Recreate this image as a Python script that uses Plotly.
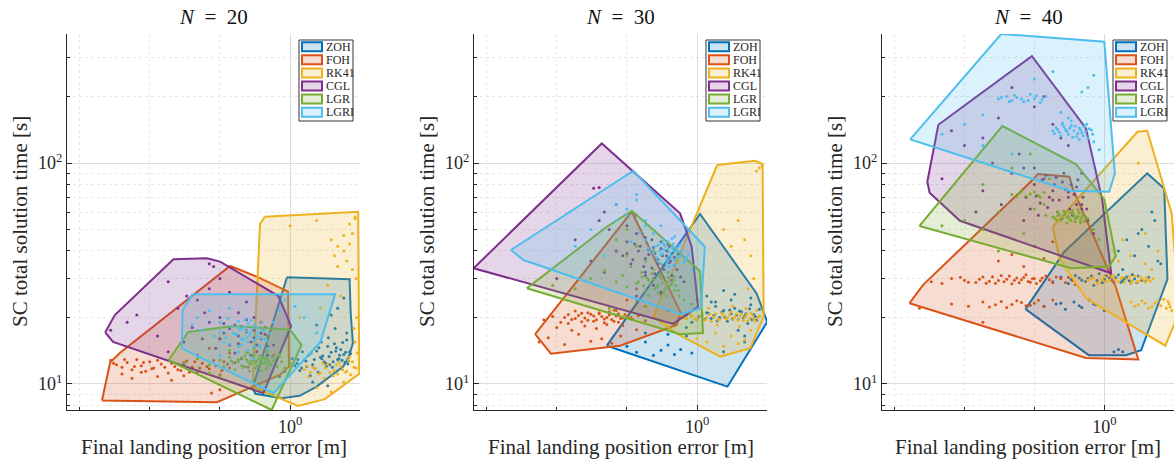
import math
import plotly.graph_objects as go

FIG_W, FIG_H = 1175, 459
FONT = "'Liberation Serif', 'DejaVu Serif', 'Times New Roman', serif"
TXT = "#262626"

SERIES = ["ZOH", "FOH", "RK41", "CGL", "LGR", "LGRI"]
COLORS = ["#0072BD", "#D95319", "#EDB120", "#7E2F8E", "#77AC30", "#4DBEEE"]
FILL_ALPHA = 0.2

PANEL_TITLES = ["<i>N</i>\u2002=\u200220", "<i>N</i>\u2002=\u200230", "<i>N</i>\u2002=\u200240"]
X_LABEL = "Final landing position error [m]"
Y_LABEL = "SC total solution time [s]"

X_MAJOR_TICKS = [1.0]
X_MAJOR_TEXT = ["10<sup>0</sup>"]
X_MINOR_TICKS = [0.125, 0.25, 0.5]
Y_MAJOR_TICKS = [10, 100]
Y_MAJOR_TEXT = ["10<sup>1</sup>", "10<sup>2</sup>"]
Y_MINOR_TICKS = [8, 9, 20, 30, 40, 50, 60, 70, 80, 90, 200, 300]
X_LIMITS = [0.1104, 1.995]
Y_LIMITS = [7.62, 384.0]

# ---------------- N = 20 ----------------
ZOH_20_HULL = [(0.97, 30.4), (1.80, 29.8), (1.82, 20.9), (1.86, 15.3), (1.78, 13.1), (1.69, 12.0),
               (1.30, 9.72), (1.10, 8.83), (0.92, 8.61), (0.71, 9.02), (0.69, 9.57)]
FOH_20_HULL = [(0.156, 8.41), (0.169, 12.5), (0.186, 13.8), (0.553, 34.2), (0.72, 30.6), (0.98, 26.2),
               (0.99, 12.0), (0.906, 11.0), (0.571, 8.9), (0.485, 8.27)]
RK41_20_HULL = [(0.78, 57.2), (1.96, 60.2), (1.98, 11.1), (1.41, 8.53), (1.08, 7.95), (0.69, 9.72), (0.743, 53.0)]
CGL_20_HULL = [(0.161, 17.1), (0.177, 20.5), (0.316, 36.7), (0.439, 37.1), (0.501, 35.8), (0.891, 25.0),
               (1.01, 18.3), (0.768, 9.08), (0.174, 15.5)]
LGR_20_HULL = [(0.301, 12.8), (0.366, 17.2), (0.571, 18.3), (1.0, 17.6), (1.12, 15.0), (0.834, 7.62)]
LGRI_20_HULL = [(0.382, 25.5), (1.56, 25.5), (1.35, 15.5), (0.848, 9.08), (0.343, 14.5), (0.346, 21.6)]

ZOH_20_X = [1.05, 1.1, 1.15, 1.2, 1.25, 1.3, 1.35, 1.4, 1.45, 1.5, 1.55, 1.6, 1.65, 1.7, 1.75, 1.8,
            1.12, 1.22, 1.32, 1.42, 1.52, 1.62, 1.72, 1.08, 1.18, 1.28, 1.38, 1.48, 1.58, 1.68, 1.78,
            0.95, 0.9, 1.3, 1.5, 1.7, 1.6, 1.25, 1.45, 1.75,
            1.02, 1.07, 1.13, 1.17, 1.23, 1.27, 1.33, 1.37, 1.43, 1.47, 1.53, 1.57, 1.63, 1.67, 1.73, 1.77,
            1.82, 1.36, 1.46, 1.56]
ZOH_20_Y = [12.1, 11.5, 12.8, 13.5, 12.2, 14.1, 13.2, 12.6, 14.8, 13.9, 15.2, 12.9, 14.3, 13.6, 15.8, 14.0,
            11.8, 10.9, 11.3, 12.4, 11.9, 13.0, 12.5, 12.9, 12.0, 11.7, 13.4, 12.2, 14.6, 15.4, 12.7,
            11.4, 10.8, 18.5, 20.5, 24.5, 22.0, 10.2, 9.8, 17.0,
            13.0, 12.4, 14.0, 12.7, 13.8, 12.9, 14.6, 13.0, 12.0, 13.3, 12.6, 14.1, 13.5, 12.8, 13.9, 12.3,
            13.7, 15.5, 16.2, 17.8]
FOH_20_X = [0.17, 0.18, 0.19, 0.2, 0.21, 0.22, 0.23, 0.24, 0.25, 0.26, 0.28, 0.3, 0.32, 0.34, 0.36, 0.38,
            0.4, 0.42, 0.45, 0.48, 0.5, 0.52, 0.55, 0.19, 0.21, 0.23, 0.27, 0.31, 0.35,
            0.45, 0.5, 0.55, 0.6, 0.65, 0.7, 0.75, 0.8, 0.85, 0.6, 0.7, 0.5, 0.46,
            0.175, 0.195, 0.215, 0.235, 0.255, 0.27, 0.29, 0.31, 0.33, 0.35, 0.37, 0.39, 0.41, 0.44, 0.47,
            0.51, 0.54, 0.58, 0.62, 0.66]
FOH_20_Y = [12.8, 12.2, 11.9, 12.5, 11.6, 12.9, 12.1, 11.4, 12.6, 11.8, 12.3, 11.2, 12.0, 11.5, 12.7, 11.9,
            11.3, 12.4, 11.7, 12.1, 11.0, 12.6, 11.8, 11.1, 10.6, 11.3, 10.8, 10.4, 10.9,
            14.5, 16.0, 13.8, 15.2, 17.5, 14.0, 19.0, 16.5, 13.5, 21.0, 12.8, 9.4, 9.1,
            12.4, 12.9, 12.0, 12.5, 11.7, 12.8, 11.9, 12.4, 11.6, 12.2, 11.3, 12.6, 11.8, 12.0, 12.8,
            11.5, 12.3, 12.5, 13.1, 11.9]
RK41_20_X = [1.15, 1.25, 1.35, 1.45, 1.55, 1.65, 1.75, 1.85, 1.92, 1.2, 1.4, 1.6, 1.8, 1.9, 1.3, 1.5, 1.7, 1.88,
             1.0, 1.3, 1.5, 1.6, 1.7, 1.8, 1.9, 1.55, 1.75, 1.85, 1.45, 1.65, 1.92, 1.35, 1.1, 0.98, 1.85, 1.9,
             1.18, 1.28, 1.38, 1.48, 1.58, 1.68, 1.78, 1.88, 1.94, 1.22, 1.42, 1.62, 1.82, 1.33, 1.53, 1.73,
             1.93, 1.6, 1.7, 1.8]
RK41_20_Y = [11.6, 11.9, 11.2, 12.3, 11.5, 12.0, 11.4, 12.6, 11.8, 10.8, 10.6, 11.1, 13.2, 15.5, 9.6, 9.2, 10.2, 17.8,
             52.0, 55.0, 45.0, 42.0, 40.0, 43.0, 56.0, 38.0, 36.0, 33.0, 28.0, 25.0, 30.0, 22.0, 20.0, 18.0, 48.0, 57.0,
             12.1, 11.7, 12.4, 11.3, 12.2, 11.6, 12.8, 11.9, 13.8, 11.3, 11.8, 12.5, 11.0, 11.1, 10.9, 11.3,
             20.0, 34.0, 47.0, 53.0]
CGL_20_X = [0.17, 0.2, 0.22, 0.27, 0.3, 0.33, 0.35, 0.38, 0.4, 0.42, 0.45, 0.48, 0.5, 0.52, 0.55, 0.58, 0.6,
            0.62, 0.65, 0.68, 0.7, 0.72, 0.75, 0.78, 0.8, 0.85, 0.4, 0.45, 0.5, 0.55, 0.6, 0.65, 0.7,
            0.45, 0.47, 0.3, 0.35,
            0.5, 0.55, 0.6, 0.65, 0.7, 0.75, 0.8, 0.52, 0.62, 0.72, 0.58, 0.68, 0.78, 0.43, 0.36]
CGL_20_Y = [17.5, 19.0, 20.5, 16.5, 14.0, 22.0, 15.5, 18.0, 13.5, 16.0, 19.0, 14.5, 20.0, 17.0, 15.0, 18.5, 16.5,
            13.0, 19.5, 15.5, 17.5, 14.0, 16.0, 18.0, 13.5, 15.0, 24.0, 27.0, 30.0, 26.0, 21.0, 23.5, 20.0,
            35.0, 34.0, 29.0, 12.5,
            16.0, 17.8, 15.2, 17.2, 16.2, 17.0, 14.8, 18.8, 18.2, 15.0, 13.8, 13.5, 16.8, 21.0, 25.0]
LGR_20_X = [0.35, 0.4, 0.45, 0.5, 0.52, 0.55, 0.57, 0.6, 0.62, 0.64, 0.66, 0.68, 0.7, 0.72, 0.74, 0.76, 0.78,
            0.8, 0.82, 0.85, 0.88, 0.9, 0.95, 1.0, 0.58, 0.63, 0.67, 0.71, 0.75, 0.79, 0.55, 0.6, 0.65, 0.7,
            0.8, 0.9, 0.45, 0.5,
            0.6, 0.62, 0.65, 0.67, 0.69, 0.71, 0.73, 0.75, 0.77, 0.79, 0.81, 0.83, 0.86, 0.64, 0.68, 0.72,
            0.76, 0.8, 0.7, 0.74, 0.66, 0.78, 0.84, 0.92, 0.56]
LGR_20_Y = [12.5, 13.0, 12.2, 12.8, 12.0, 13.2, 12.4, 12.9, 12.1, 13.4, 12.6, 12.3, 13.0, 12.7, 12.2, 13.1, 12.5,
            12.9, 12.3, 12.7, 12.0, 13.3, 11.8, 12.4, 11.6, 11.9, 11.4, 11.8, 11.5, 11.7, 14.2, 14.8, 13.9, 14.5,
            14.0, 13.6, 11.2, 10.9,
            12.6, 13.1, 12.9, 12.3, 13.3, 12.5, 13.0, 12.8, 12.4, 13.2, 12.6, 12.2, 12.9, 12.0, 12.7, 12.1,
            12.4, 12.1, 13.6, 13.4, 13.8, 13.0, 13.2, 12.6, 12.7]
LGRI_20_X = [0.38, 0.4, 0.42, 0.45, 0.47, 0.5, 0.52, 0.55, 0.57, 0.6, 0.62, 0.64, 0.66, 0.68, 0.7, 0.72, 0.74,
             0.76, 0.78, 0.8, 0.85, 0.9, 0.95, 1.05, 1.15, 1.3, 0.55, 0.6, 0.65, 0.7, 0.5, 0.6, 0.7, 0.62, 0.66, 0.58,
             0.5, 0.53, 0.56, 0.59, 0.61, 0.63, 0.65, 0.67, 0.69, 0.71, 0.73, 0.75, 0.77, 0.79, 0.82, 0.6, 0.64,
             0.68, 0.72, 0.76, 0.54, 0.62, 0.7, 0.66, 0.74]
LGRI_20_Y = [18.5, 20.0, 17.5, 21.5, 16.5, 19.0, 15.5, 22.0, 17.0, 18.0, 16.0, 19.5, 15.5, 17.0, 18.5, 16.5, 15.0,
             17.5, 16.0, 14.5, 19.0, 21.5, 24.0, 22.5, 20.0, 17.0, 15.2, 14.8, 16.2, 15.8, 13.5, 14.0, 13.0, 17.8, 18.8, 16.8,
             17.2, 16.2, 18.2, 16.8, 17.6, 15.8, 17.3, 16.6, 17.8, 15.9, 17.1, 16.2, 17.4, 15.7, 16.9, 19.2, 18.0,
             19.4, 18.0, 18.9, 19.8, 15.0, 14.8, 14.2, 14.6]

# ---------------- N = 30 ----------------
ZOH_30_HULL = [(0.41, 14.9), (1.03, 58.8), (1.80, 25.7), (2.0, 19.1), (1.35, 9.72)]
FOH_30_HULL = [(0.202, 16.8), (0.236, 13.7), (0.467, 14.9), (0.818, 18.5), (0.851, 21.0), (0.525, 60.2)]
RK41_30_HULL = [(1.22, 98.0), (1.77, 102.4), (1.91, 99.0), (1.93, 20.2), (1.69, 14.5), (1.26, 13.3),
                (0.818, 16.9), (0.65, 20.2)]
CGL_30_HULL = [(0.11, 33.4), (0.39, 122.7), (0.845, 59.2), (0.948, 41.8), (1.01, 22.4), (0.79, 18.7)]
LGR_30_HULL = [(0.186, 27.1), (0.41, 51.5), (0.525, 60.8), (1.03, 32.4), (1.06, 17.0), (0.845, 16.8)]
LGRI_30_HULL = [(0.159, 40.4), (0.533, 92.3), (1.08, 41.8), (1.04, 22.0), (0.85, 20.7), (0.18, 36.4)]

ZOH_30_X = [0.5, 0.55, 0.6, 0.65, 0.7, 0.75, 0.8, 0.85, 0.9, 0.95, 1.0, 1.05, 1.1, 1.15, 1.2, 1.25, 1.3, 1.35,
            1.4, 1.45, 1.5, 1.55, 1.6, 1.65, 1.7, 1.75, 1.8, 1.85, 1.1, 1.2, 1.3, 1.4, 1.5, 1.6, 1.7, 0.75,
            0.8, 0.6, 0.9, 1.3, 1.6, 1.0,
            1.02, 1.08, 1.12, 1.18, 1.22, 1.28, 1.32, 1.38, 1.42, 1.48, 1.52, 1.58, 1.62, 1.68, 1.72, 1.78,
            0.95, 0.9, 1.15, 1.45]
ZOH_30_Y = [14.8, 13.9, 15.5, 13.5, 14.2, 15.0, 13.6, 14.3, 16.5, 13.8, 19.5, 20.5, 21.0, 19.8, 22.5, 20.0, 21.5,
            19.2, 20.8, 22.0, 19.5, 21.2, 20.3, 18.8, 22.8, 20.6, 19.4, 21.8, 25.0, 23.5, 26.5, 24.0, 17.5, 16.5,
            24.5, 16.8, 18.5, 17.0, 18.0, 14.0, 15.5, 24.0,
            20.2, 19.6, 20.9, 20.4, 19.3, 21.1, 20.0, 21.6, 19.7, 20.5, 21.4, 19.9, 20.8, 21.9, 19.6, 20.2,
            19.0, 20.5, 23.5, 25.5]
FOH_30_X = [0.22, 0.24, 0.26, 0.28, 0.3, 0.32, 0.34, 0.36, 0.38, 0.4, 0.42, 0.44, 0.46, 0.48, 0.5, 0.53, 0.56,
            0.6, 0.65, 0.7, 0.25, 0.29, 0.33, 0.37, 0.41, 0.45, 0.21, 0.23, 0.27, 0.31, 0.35, 0.39, 0.43, 0.47,
            0.5, 0.55, 0.6, 0.65, 0.7, 0.75,
            0.27, 0.29, 0.31, 0.33, 0.35, 0.37, 0.39, 0.41, 0.43, 0.45, 0.47, 0.49, 0.52, 0.3, 0.34, 0.38,
            0.42, 0.46, 0.36, 0.4, 0.44, 0.32, 0.28, 0.48, 0.55]
FOH_30_Y = [19.5, 20.2, 19.0, 20.6, 19.8, 20.9, 19.4, 20.3, 21.0, 19.7, 20.5, 19.2, 20.8, 19.9, 20.1, 19.6, 20.4,
            19.3, 20.0, 19.1, 18.0, 17.5, 18.3, 17.8, 18.6, 21.5, 15.5, 16.2, 15.1, 16.8, 15.6, 16.0, 15.3, 16.5,
            24.0, 27.0, 22.5, 30.0, 25.5, 21.5,
            20.0, 19.6, 20.4, 19.9, 20.7, 19.5, 20.2, 20.0, 19.6, 20.3, 19.8, 20.6, 20.0, 21.4, 21.0, 20.8,
            21.2, 19.0, 19.2, 18.9, 21.6, 19.1, 18.8, 18.4, 17.6]
RK41_30_X = [0.85, 0.9, 0.95, 1.0, 1.05, 1.1, 1.15, 1.2, 1.25, 1.3, 1.35, 1.4, 1.45, 1.5, 1.55, 1.6, 1.65, 1.7,
             1.75, 1.8, 1.85, 1.0, 1.1, 1.2, 1.3, 1.4, 1.5, 1.6, 1.7, 1.3, 1.5, 1.6, 1.7, 1.8, 1.85, 1.75, 1.4,
             1.65, 1.9,
             0.88, 0.93, 0.98, 1.03, 1.08, 1.13, 1.18, 1.23, 1.28, 1.33, 1.38, 1.43, 1.48, 1.53, 1.58, 1.63,
             1.68, 1.73, 1.78, 1.83, 1.12, 1.22, 1.42, 1.52, 1.62]
RK41_30_Y = [20.5, 19.8, 20.2, 19.5, 21.0, 20.0, 19.2, 20.8, 19.6, 20.4, 19.9, 21.2, 20.1, 19.4, 20.7, 20.0, 19.3,
             20.9, 19.7, 21.5, 20.3, 16.0, 15.5, 17.0, 14.8, 16.5, 15.2, 15.8, 17.5, 50.0, 55.0, 45.0, 38.0, 92.0,
             95.0, 30.0, 42.0, 27.0, 97.0,
             19.9, 20.6, 19.7, 20.3, 19.4, 20.7, 20.1, 19.5, 20.9, 19.8, 20.5, 19.6, 20.8, 20.2, 19.3, 20.6,
             19.9, 20.4, 19.2, 20.0, 22.0, 18.5, 22.5, 18.2, 22.0]
CGL_30_X = [0.25, 0.3, 0.35, 0.38, 0.4, 0.42, 0.45, 0.48, 0.5, 0.52, 0.55, 0.57, 0.6, 0.62, 0.64, 0.66, 0.68,
            0.7, 0.72, 0.74, 0.76, 0.78, 0.8, 0.82, 0.85, 0.88, 0.4, 0.45, 0.5, 0.55, 0.6, 0.65, 0.36, 0.38,
            0.7, 0.75, 0.6, 0.55,
            0.5, 0.53, 0.56, 0.59, 0.62, 0.65, 0.68, 0.71, 0.74, 0.77, 0.8, 0.83, 0.6, 0.66, 0.72, 0.78,
            0.54, 0.64, 0.7, 0.76]
CGL_30_Y = [30.0, 45.0, 36.0, 55.0, 32.0, 50.0, 40.0, 38.0, 44.0, 35.0, 48.0, 42.0, 37.0, 40.5, 33.5, 39.0, 36.5,
            41.0, 34.5, 38.0, 35.5, 31.0, 37.5, 33.0, 30.5, 29.0, 60.0, 65.0, 52.0, 58.0, 46.0, 28.0, 77.0, 77.5,
            26.0, 43.0, 31.0, 25.0,
            39.0, 36.5, 40.0, 34.0, 38.5, 41.5, 35.0, 38.0, 40.0, 36.0, 34.5, 38.5, 32.0, 31.5, 33.0, 29.5,
            43.0, 45.0, 44.0, 42.0]
LGR_30_X = [0.24, 0.3, 0.35, 0.4, 0.45, 0.48, 0.5, 0.52, 0.55, 0.58, 0.6, 0.62, 0.64, 0.66, 0.68, 0.7, 0.72,
            0.74, 0.76, 0.78, 0.8, 0.84, 0.88, 0.95, 0.5, 0.55, 0.6, 0.65, 0.7, 0.45, 0.5, 0.42, 0.6, 0.65, 0.55, 0.75,
            0.56, 0.59, 0.61, 0.63, 0.65, 0.67, 0.69, 0.71, 0.73, 0.75, 0.77, 0.79, 0.81, 0.83, 0.62, 0.68,
            0.74, 0.8, 0.7, 0.58]
LGR_30_Y = [28.0, 27.0, 30.0, 32.5, 29.0, 31.0, 27.5, 34.0, 28.5, 30.5, 26.5, 29.5, 31.5, 27.0, 28.0, 30.0, 26.0,
            29.0, 27.5, 28.5, 26.5, 25.0, 24.0, 23.0, 38.0, 42.0, 36.0, 40.0, 35.0, 45.0, 50.0, 22.0, 22.5, 33.0, 24.0, 32.0,
            29.0, 27.8, 30.2, 28.3, 29.6, 27.4, 30.8, 28.8, 27.0, 30.3, 28.2, 29.4, 27.9, 26.5, 25.2, 25.8,
            25.0, 30.5, 31.2, 32.0]
LGRI_30_X = [0.3, 0.35, 0.4, 0.45, 0.5, 0.55, 0.6, 0.62, 0.65, 0.68, 0.7, 0.72, 0.74, 0.76, 0.78, 0.8, 0.82,
             0.85, 0.88, 0.9, 0.95, 0.65, 0.7, 0.75, 0.8, 0.55, 0.5, 0.45, 0.6, 0.7, 0.68, 0.72, 0.76,
             0.63, 0.66, 0.69, 0.71, 0.73, 0.75, 0.77, 0.79, 0.81, 0.83, 0.86, 0.89, 0.92, 0.67, 0.71, 0.75,
             0.79, 0.84, 0.72, 0.78, 0.74, 0.8, 0.6, 0.57, 0.52]
LGRI_30_Y = [42.0, 50.0, 38.0, 55.0, 62.0, 68.0, 45.0, 41.0, 39.0, 42.5, 38.5, 40.5, 37.0, 39.5, 41.5, 36.5, 40.0,
             38.0, 35.5, 37.5, 33.0, 48.0, 52.0, 44.0, 46.5, 72.0, 58.0, 65.0, 55.0, 35.0, 36.0, 43.0, 34.0,
             40.0, 41.8, 40.0, 39.0, 42.0, 40.8, 38.0, 40.2, 41.5, 37.8, 39.8, 36.5, 38.5, 37.5, 43.5, 36.0,
             43.0, 42.5, 45.0, 45.5, 35.0, 34.5, 52.0, 48.5, 44.0]

# ---------------- N = 40 ----------------
ZOH_40_HULL = [(0.458, 21.8), (0.673, 39.7), (1.53, 89.8), (1.81, 76.8), (1.87, 29.8), (1.44, 14.2),
               (1.24, 13.5), (0.857, 13.5)]
FOH_40_HULL = [(0.145, 23.2), (0.166, 28.1), (0.477, 81.5), (0.518, 89.2), (0.708, 86.7), (0.731, 76.8),
               (1.12, 27.5), (1.40, 12.9), (0.834, 13.1)]
RK41_40_HULL = [(0.60, 51.5), (1.39, 138.6), (1.53, 140.0), (1.95, 59.2), (2.1, 21.0), (1.83, 14.9),
                (0.834, 24.4), (0.641, 37.0)]
CGL_40_HULL = [(0.193, 149.0), (0.488, 305.0), (0.834, 143.5), (0.98, 68.0), (1.07, 31.7), (0.239, 54.8),
               (0.177, 73.4), (0.173, 82.3)]
LGR_40_HULL = [(0.16, 51.9), (0.364, 147.0), (0.756, 98.7), (1.0, 68.5), (1.12, 37.9), (1.05, 34.0), (0.72, 33.4)]
LGRI_40_HULL = [(0.146, 128.0), (0.36, 384.0), (1.0, 354.0), (1.11, 89.8), (1.05, 74.2), (0.708, 75.0)]

ZOH_40_X = [0.6, 0.65, 0.7, 0.75, 0.8, 0.85, 0.9, 0.95, 1.0, 1.05, 1.1, 1.15, 1.2, 1.25, 1.3, 1.35, 1.4, 1.5,
            0.55, 0.62, 0.68, 0.74, 0.8, 0.86, 0.92, 1.15, 1.25, 1.35, 1.45, 1.55, 1.65, 1.75, 1.2, 1.4, 1.6, 1.7,
            1.1, 1.15, 1.2,
            0.72, 0.78, 0.83, 0.88, 0.93, 0.98, 1.02, 1.08, 1.12, 1.18, 1.22, 1.28, 1.32, 1.38, 1.45, 1.55,
            0.65, 0.78, 0.9, 1.0]
ZOH_40_Y = [29.0, 30.5, 28.5, 31.0, 29.5, 30.0, 28.0, 31.5, 29.8, 30.2, 28.8, 31.2, 29.4, 30.6, 28.6, 29.9, 30.8,
            29.2, 22.5, 23.0, 21.8, 23.5, 22.2, 24.0, 22.8, 40.0, 45.0, 38.0, 50.0, 42.0, 55.0, 35.0, 33.0, 48.0,
            60.0, 36.0, 14.0, 14.3, 14.0,
            29.7, 30.2, 29.1, 30.8, 29.4, 28.7, 30.9, 29.5, 30.3, 28.9, 30.0, 29.3, 31.3, 28.8, 29.5, 30.4,
            23.2, 22.6, 23.0, 21.5]
FOH_40_X = [0.18, 0.2, 0.22, 0.25, 0.28, 0.3, 0.32, 0.34, 0.36, 0.38, 0.4, 0.42, 0.44, 0.46, 0.48, 0.5, 0.53,
            0.56, 0.6, 0.65, 0.7, 0.75, 0.22, 0.26, 0.3, 0.34, 0.38, 0.42, 0.46, 0.5, 0.55, 0.6, 0.35, 0.4, 0.45,
            0.5, 0.55, 0.6, 0.16, 0.3,
            0.24, 0.26, 0.29, 0.31, 0.33, 0.35, 0.37, 0.39, 0.41, 0.43, 0.45, 0.47, 0.49, 0.51, 0.54, 0.58,
            0.62, 0.68, 0.73, 0.32, 0.36, 0.4, 0.44, 0.48, 0.52]
FOH_40_Y = [29.0, 28.5, 30.0, 29.5, 28.8, 30.5, 29.2, 28.6, 31.0, 29.8, 28.4, 30.2, 29.6, 31.2, 28.9, 30.0, 29.3,
            30.8, 28.7, 29.9, 30.4, 28.2, 23.0, 22.5, 23.5, 22.8, 22.2, 23.8, 22.6, 23.2, 22.4, 24.0, 36.0, 38.5,
            34.0, 42.0, 37.0, 44.0, 22.0, 19.0,
            30.4, 28.9, 29.8, 28.6, 30.6, 29.4, 29.0, 30.8, 29.5, 28.7, 30.3, 29.1, 29.9, 28.5, 30.2, 29.6,
            30.5, 28.8, 29.4, 22.3, 23.6, 22.9, 23.4, 22.7, 23.9]
RK41_40_X = [0.85, 0.9, 0.95, 1.0, 1.05, 1.1, 1.15, 1.2, 1.25, 1.3, 1.35, 1.4, 1.45, 1.5, 1.55, 1.3, 1.4, 1.5,
             1.6, 1.7, 1.8, 1.85, 1.9, 1.95, 1.1, 1.2, 1.3, 1.4, 1.5, 1.6, 1.0, 1.15,
             0.88, 0.93, 0.98, 1.02, 1.08, 1.12, 1.18, 1.22, 1.28, 1.32, 1.38, 1.42, 1.48, 1.52, 1.58, 1.62,
             1.35, 1.45, 1.55, 1.65, 1.75, 1.88, 1.92, 1.7, 1.5]
RK41_40_Y = [29.5, 30.2, 28.8, 30.6, 29.4, 31.0, 29.0, 30.4, 29.8, 28.6, 30.8, 29.2, 30.0, 28.9, 29.6, 23.5, 22.8,
             23.2, 22.4, 23.8, 24.2, 22.0, 23.0, 21.5, 40.0, 45.0, 38.0, 100.0, 35.0, 33.0, 55.0, 36.0,
             29.9, 28.5, 29.7, 29.1, 30.5, 29.6, 30.1, 28.9, 30.7, 29.3, 29.0, 30.6, 29.4, 30.2, 29.2, 30.0,
             22.5, 23.8, 22.0, 23.2, 22.6, 23.6, 22.3, 40.0, 48.0]
CGL_40_X = [0.2, 0.22, 0.25, 0.28, 0.3, 0.33, 0.36, 0.4, 0.43, 0.46, 0.5, 0.53, 0.56, 0.6, 0.63, 0.66, 0.7,
            0.73, 0.76, 0.8, 0.85, 0.9, 0.5, 0.55, 0.6, 0.65, 0.7, 0.4, 0.45, 0.35, 0.3, 0.6, 0.7, 0.8, 0.55, 0.45,
            0.48, 0.51, 0.54, 0.57, 0.61, 0.64, 0.67, 0.71, 0.74, 0.77, 0.81, 0.84, 0.58, 0.62, 0.68, 0.72,
            0.52, 0.76, 0.8, 0.5]
CGL_40_Y = [85.0, 140.0, 120.0, 60.0, 75.0, 100.0, 65.0, 90.0, 110.0, 70.0, 80.0, 66.0, 88.0, 75.0, 60.0, 82.0,
            70.0, 58.0, 78.0, 65.0, 55.0, 48.0, 180.0, 200.0, 150.0, 130.0, 120.0, 220.0, 95.0, 160.0, 130.0, 68.0,
            74.0, 62.0, 85.0, 55.0,
            62.0, 71.0, 84.0, 63.0, 80.0, 68.0, 90.0, 62.0, 72.0, 84.0, 70.0, 62.0, 70.0, 86.0, 76.0, 80.0,
            58.0, 65.0, 90.0, 95.0]
LGR_40_X = [0.2, 0.25, 0.3, 0.35, 0.4, 0.43, 0.46, 0.5, 0.53, 0.56, 0.6, 0.62, 0.64, 0.66, 0.68, 0.7, 0.72, 0.74,
            0.76, 0.78, 0.8, 0.82, 0.85, 0.9, 0.95, 0.45, 0.5, 0.55, 0.4, 0.48, 0.58, 0.35, 0.3,
            0.61, 0.63, 0.65, 0.67, 0.69, 0.71, 0.73, 0.75, 0.77, 0.79, 0.81, 0.83, 0.63, 0.67, 0.71, 0.75,
            0.79, 0.69, 0.73, 0.77, 0.42, 0.44, 0.48, 0.52, 0.55]
LGR_40_Y = [52.0, 55.0, 50.0, 60.0, 72.0, 73.0, 71.0, 74.0, 70.0, 58.0, 57.0, 55.5, 58.5, 56.0, 59.0, 57.5, 55.0,
            58.0, 56.5, 59.5, 57.0, 54.5, 56.0, 50.0, 45.0, 48.0, 62.0, 65.0, 95.0, 110.0, 85.0, 40.0, 80.0,
            56.5, 57.8, 55.2, 58.2, 56.8, 55.8, 59.2, 56.2, 57.4, 55.4, 58.6, 57.2, 60.2, 60.5, 59.8, 54.2,
            53.8, 53.5, 61.0, 61.5, 70.5, 74.5, 72.5, 71.5, 73.5]
LGRI_40_X = [0.2, 0.25, 0.3, 0.35, 0.38, 0.4, 0.42, 0.45, 0.48, 0.5, 0.53, 0.56, 0.6, 0.62, 0.64, 0.66, 0.68, 0.7,
             0.72, 0.74, 0.76, 0.78, 0.8, 0.82, 0.85, 0.88, 0.9, 0.3, 0.4, 0.5, 0.6, 0.7, 0.8, 0.95, 0.9, 0.85, 0.65,
             0.61, 0.63, 0.65, 0.67, 0.69, 0.71, 0.73, 0.75, 0.77, 0.79, 0.81, 0.83, 0.86, 0.89, 0.66, 0.72,
             0.78, 0.84, 0.36, 0.39, 0.41, 0.44, 0.47, 0.51, 0.54]
LGRI_40_Y = [135.0, 150.0, 165.0, 195.0, 200.0, 192.0, 198.0, 190.0, 205.0, 196.0, 188.0, 200.0, 140.0, 145.0,
             138.0, 150.0, 142.0, 135.0, 148.0, 140.0, 132.0, 144.0, 137.0, 146.0, 130.0, 141.0, 125.0, 120.0,
             110.0, 240.0, 260.0, 160.0, 210.0, 115.0, 250.0, 220.0, 170.0,
             136.0, 142.0, 133.0, 146.0, 139.0, 144.0, 131.0, 147.0, 136.0, 141.0, 133.0, 139.0, 143.0, 135.0,
             152.0, 155.0, 128.0, 150.0, 198.0, 190.0, 203.0, 195.0, 192.0, 201.0, 194.0]

PANELS = [
    {"hulls": [ZOH_20_HULL, FOH_20_HULL, RK41_20_HULL, CGL_20_HULL, LGR_20_HULL, LGRI_20_HULL],
     "px": [ZOH_20_X, FOH_20_X, RK41_20_X, CGL_20_X, LGR_20_X, LGRI_20_X],
     "py": [ZOH_20_Y, FOH_20_Y, RK41_20_Y, CGL_20_Y, LGR_20_Y, LGRI_20_Y]},
    {"hulls": [ZOH_30_HULL, FOH_30_HULL, RK41_30_HULL, CGL_30_HULL, LGR_30_HULL, LGRI_30_HULL],
     "px": [ZOH_30_X, FOH_30_X, RK41_30_X, CGL_30_X, LGR_30_X, LGRI_30_X],
     "py": [ZOH_30_Y, FOH_30_Y, RK41_30_Y, CGL_30_Y, LGR_30_Y, LGRI_30_Y]},
    {"hulls": [ZOH_40_HULL, FOH_40_HULL, RK41_40_HULL, CGL_40_HULL, LGR_40_HULL, LGRI_40_HULL],
     "px": [ZOH_40_X, FOH_40_X, RK41_40_X, CGL_40_X, LGR_40_X, LGRI_40_X],
     "py": [ZOH_40_Y, FOH_40_Y, RK41_40_Y, CGL_40_Y, LGR_40_Y, LGRI_40_Y]},
]

# plot-area pixel boxes (left, right), common top/bottom
PLOT_LR = [(67, 360), (474, 767), (882, 1174)]
PLOT_TOP, PLOT_BOTTOM = 34, 410


def rgba(hexc, a):
    h = hexc.lstrip("#")
    return "rgba(%d,%d,%d,%.3f)" % (int(h[0:2], 16), int(h[2:4], 16), int(h[4:6], 16), a)


def px2x(px):
    return px / FIG_W


def px2y(py):
    return 1 - py / FIG_H


fig = go.Figure()
shapes = []
annotations = []

for i, panel in enumerate(PANELS):
    ax = "" if i == 0 else str(i + 1)
    for s, name in enumerate(SERIES):
        hull = panel["hulls"][s]
        hx = [p[0] for p in hull] + [hull[0][0]]
        hy = [p[1] for p in hull] + [hull[0][1]]
        fig.add_trace(go.Scatter(x=hx, y=hy, mode="lines", fill="toself",
                                 fillcolor=rgba(COLORS[s], FILL_ALPHA),
                                 line=dict(color=COLORS[s], width=2),
                                 name=name, showlegend=False, hoverinfo="skip",
                                 xaxis="x" + ax, yaxis="y" + ax))
        fig.add_trace(go.Scatter(x=panel["px"][s], y=panel["py"][s], mode="markers",
                                 marker=dict(size=3, color=COLORS[s]),
                                 name=name, showlegend=False,
                                 xaxis="x" + ax, yaxis="y" + ax))

    l, r = PLOT_LR[i]
    xaxis = dict(
        type="log", domain=[px2x(l), px2x(r)], anchor="y" + ax,
        range=[math.log10(X_LIMITS[0]), math.log10(X_LIMITS[1])],
        tickmode="array", tickvals=X_MAJOR_TICKS, ticktext=X_MAJOR_TEXT,
        ticks="inside", ticklen=5, tickcolor=TXT,
        showline=True, linecolor=TXT, linewidth=1, mirror=False,
        showgrid=True, gridcolor="#dcdcdc", gridwidth=1, zeroline=False,
        tickfont=dict(family=FONT, size=18, color=TXT),
        minor=dict(tickmode="array", tickvals=X_MINOR_TICKS, ticks="inside", ticklen=3,
                   tickcolor=TXT, showgrid=True, gridcolor="#e8e8e8", griddash="dot", gridwidth=1),
    )
    yaxis = dict(
        type="log", domain=[px2y(PLOT_BOTTOM), px2y(PLOT_TOP)], anchor="x" + ax,
        range=[math.log10(Y_LIMITS[0]), math.log10(Y_LIMITS[1])],
        tickmode="array", tickvals=Y_MAJOR_TICKS, ticktext=Y_MAJOR_TEXT,
        ticks="inside", ticklen=5, tickcolor=TXT,
        showline=True, linecolor=TXT, linewidth=1, mirror=False,
        showgrid=True, gridcolor="#dcdcdc", gridwidth=1, zeroline=False,
        tickfont=dict(family=FONT, size=18, color=TXT),
        minor=dict(tickmode="array", tickvals=Y_MINOR_TICKS, ticks="inside", ticklen=3,
                   tickcolor=TXT, showgrid=True, gridcolor="#e8e8e8", griddash="dot", gridwidth=1),
    )
    fig.update_layout(**{"xaxis" + ax: xaxis, "yaxis" + ax: yaxis})

    cx = (l + r) / 2
    annotations.append(dict(text=PANEL_TITLES[i], x=px2x(cx), y=px2y(17), xref="paper", yref="paper",
                            showarrow=False, xanchor="center", yanchor="middle",
                            font=dict(family=FONT, size=21, color="#111111")))
    annotations.append(dict(text=X_LABEL, x=px2x(cx), y=px2y(447), xref="paper", yref="paper",
                            showarrow=False, xanchor="center", yanchor="middle",
                            font=dict(family=FONT, size=21, color=TXT)))
    annotations.append(dict(text=Y_LABEL, x=px2x(l - 47), y=px2y((PLOT_TOP + PLOT_BOTTOM) / 2),
                            xref="paper", yref="paper", textangle=-90,
                            showarrow=False, xanchor="center", yanchor="middle",
                            font=dict(family=FONT, size=21, color=TXT)))

    # legend box
    lg_l, lg_r = r - 61, r - 7
    lg_t, lg_b = 40, 121
    shapes.append(dict(type="rect", xref="paper", yref="paper",
                       x0=px2x(lg_l), x1=px2x(lg_r), y0=px2y(lg_b), y1=px2y(lg_t),
                       fillcolor="white", line=dict(color="#333333", width=1), layer="above"))
    for s, name in enumerate(SERIES):
        yc = 46.7 + s * 13.1
        shapes.append(dict(type="rect", xref="paper", yref="paper",
                           x0=px2x(lg_l + 3), x1=px2x(lg_l + 23), y0=px2y(yc + 4.5), y1=px2y(yc - 4.5),
                           fillcolor=rgba(COLORS[s], FILL_ALPHA), line=dict(color=COLORS[s], width=2),
                           layer="above"))
        annotations.append(dict(text=name, x=px2x(lg_l + 25), y=px2y(yc), xref="paper", yref="paper",
                                showarrow=False, xanchor="left", yanchor="middle",
                                font=dict(family=FONT, size=12, color=TXT)))

fig.update_layout(
    width=FIG_W, height=FIG_H,
    margin=dict(l=0, r=0, t=0, b=0),
    paper_bgcolor="white", plot_bgcolor="white",
    showlegend=False,
    shapes=shapes, annotations=annotations,
    font=dict(family=FONT, color=TXT),
)

fig.write_html("out.html")
